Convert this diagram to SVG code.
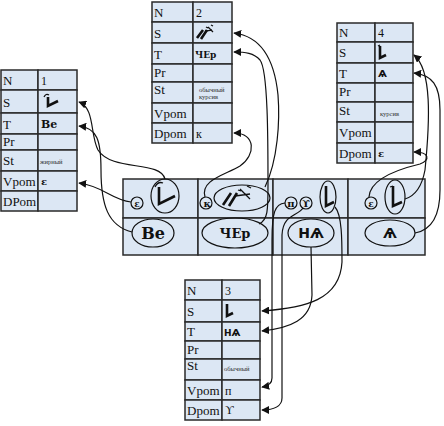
<svg xmlns="http://www.w3.org/2000/svg" width="444" height="426" viewBox="0 0 444 426">
<style>
.cell{fill:#dce7f4;stroke:#2a2a2a;stroke-width:1.5}
.lbl{font-family:"Liberation Serif",serif;font-size:13px;fill:#111}
.val{font-family:"Liberation Serif",serif;font-size:12px;fill:#111}
.sm{font-family:"Liberation Serif",serif;font-size:6.5px;fill:#333}
.sl{font-family:"DejaVu Serif","Liberation Serif",serif;font-weight:bold;fill:#111}
.yus{font-family:"DejaVu Sans","Noto Sans",sans-serif;font-weight:bold;fill:#111}
.ring{fill:none;stroke:#111;stroke-width:1.2}
.neu{fill:none;stroke:#111;stroke-width:2.6;stroke-linecap:butt}
.neut{fill:none;stroke:#111;stroke-width:1.3}
.con{fill:none;stroke:#111;stroke-width:1.2;marker-end:url(#ah)}
</style>
<defs>
<marker id="ah" viewBox="0 0 10 10" refX="9" refY="5" markerWidth="8" markerHeight="8" markerUnits="userSpaceOnUse" orient="auto">
<path d="M0,0 L10,5 L0,10 z" fill="#111"/>
</marker>
</defs>

<g id="table1">
<rect class="cell" x="1" y="70" width="37" height="20"/><rect class="cell" x="38" y="70" width="39" height="20"/>
<rect class="cell" x="1" y="90" width="37" height="23"/><rect class="cell" x="38" y="90" width="39" height="23"/>
<rect class="cell" x="1" y="113" width="37" height="21"/><rect class="cell" x="38" y="113" width="39" height="21"/>
<rect class="cell" x="1" y="134" width="37" height="16"/><rect class="cell" x="38" y="134" width="39" height="16"/>
<rect class="cell" x="1" y="150" width="37" height="21"/><rect class="cell" x="38" y="150" width="39" height="21"/>
<rect class="cell" x="1" y="171" width="37" height="20"/><rect class="cell" x="38" y="171" width="39" height="20"/>
<rect class="cell" x="1" y="191" width="37" height="20"/><rect class="cell" x="38" y="191" width="39" height="20"/>
<text class="lbl" x="3" y="85">N</text><text class="val" x="41" y="85">1</text>
<text class="lbl" x="3" y="107">S</text>
<path class="neu" d="M48,97 L48,106 L58,101"/><path class="neut" d="M44,97 q2,-4 5,-2"/>
<text class="lbl" x="3" y="129">T</text><text class="sl" x="41" y="128" font-size="11">Ве</text>
<text class="lbl" x="3" y="146">Pr</text>
<text class="lbl" x="3" y="165">St</text><text class="sm" x="40" y="164">жирный</text>
<text class="lbl" x="3" y="186">Vpom</text><text class="sl" x="41" y="185" font-size="10">ɛ</text>
<text class="lbl" x="3" y="206">DPom</text>
</g>

<g id="table2">
<rect class="cell" x="152" y="2" width="41" height="20"/><rect class="cell" x="193" y="2" width="39" height="20"/>
<rect class="cell" x="152" y="22" width="41" height="21"/><rect class="cell" x="193" y="22" width="39" height="21"/>
<rect class="cell" x="152" y="43" width="41" height="21"/><rect class="cell" x="193" y="43" width="39" height="21"/>
<rect class="cell" x="152" y="64" width="41" height="18"/><rect class="cell" x="193" y="64" width="39" height="18"/>
<rect class="cell" x="152" y="82" width="41" height="21"/><rect class="cell" x="193" y="82" width="39" height="21"/>
<rect class="cell" x="152" y="103" width="41" height="20"/><rect class="cell" x="193" y="103" width="39" height="20"/>
<rect class="cell" x="152" y="123" width="41" height="20"/><rect class="cell" x="193" y="123" width="39" height="20"/>
<text class="lbl" x="154" y="17">N</text><text class="val" x="196" y="17">2</text>
<text class="lbl" x="154" y="38">S</text>
<path class="neu" d="M197,38 L203,30 M201,39 L207,30"/><path class="neut" d="M205,31 L212,30 M208,27 L213,32 M211,25 l2,1 M206,27 l2,1"/>
<text class="lbl" x="154" y="59">T</text><text class="sl" x="195" y="58" font-size="9">ЧЕр</text>
<text class="lbl" x="154" y="77">Pr</text>
<text class="lbl" x="154" y="94">St</text><text class="sm" x="199" y="92">обычный</text><text class="sm" x="199" y="99">курсив</text>
<text class="lbl" x="154" y="118">Vpom</text>
<text class="lbl" x="154" y="138">Dpom</text><text class="val" x="196" y="138" font-size="13">к</text>
</g>

<g id="table3">
<rect class="cell" x="185" y="280" width="37" height="20"/><rect class="cell" x="222" y="280" width="38" height="20"/>
<rect class="cell" x="185" y="300" width="37" height="22"/><rect class="cell" x="222" y="300" width="38" height="22"/>
<rect class="cell" x="185" y="322" width="37" height="19"/><rect class="cell" x="222" y="322" width="38" height="19"/>
<rect class="cell" x="185" y="341" width="37" height="18"/><rect class="cell" x="222" y="341" width="38" height="18"/>
<rect class="cell" x="185" y="359" width="37" height="21"/><rect class="cell" x="222" y="359" width="38" height="21"/>
<rect class="cell" x="185" y="380" width="37" height="20"/><rect class="cell" x="222" y="380" width="38" height="20"/>
<rect class="cell" x="185" y="400" width="37" height="20"/><rect class="cell" x="222" y="400" width="38" height="20"/>
<text class="lbl" x="187" y="295">N</text><text class="val" x="225" y="295">3</text>
<text class="lbl" x="187" y="316">S</text>
<path class="neu" d="M227,304 L227,316 L233,313"/>
<text class="lbl" x="187" y="336">T</text><text class="yus" x="224" y="336" font-size="9">НѦ</text>
<text class="lbl" x="187" y="354">Pr</text>
<text class="lbl" x="187" y="370">St</text><text class="sm" x="224" y="371">обычный</text>
<text class="lbl" x="187" y="395">Vpom</text><text class="val" x="225" y="395" font-size="13">п</text>
<text class="lbl" x="187" y="415">Dpom</text><text class="val" x="225" y="414" font-size="13">ϒ</text>
</g>

<g id="table4">
<rect class="cell" x="337" y="23" width="38" height="19"/><rect class="cell" x="375" y="23" width="38" height="19"/>
<rect class="cell" x="337" y="42" width="38" height="21"/><rect class="cell" x="375" y="42" width="38" height="21"/>
<rect class="cell" x="337" y="63" width="38" height="20"/><rect class="cell" x="375" y="63" width="38" height="20"/>
<rect class="cell" x="337" y="83" width="38" height="19"/><rect class="cell" x="375" y="83" width="38" height="19"/>
<rect class="cell" x="337" y="102" width="38" height="20"/><rect class="cell" x="375" y="102" width="38" height="20"/>
<rect class="cell" x="337" y="122" width="38" height="21"/><rect class="cell" x="375" y="122" width="38" height="21"/>
<rect class="cell" x="337" y="143" width="38" height="20"/><rect class="cell" x="375" y="143" width="38" height="20"/>
<text class="lbl" x="339" y="37">N</text><text class="val" x="378" y="37">4</text>
<text class="lbl" x="339" y="57">S</text>
<path class="neu" d="M380,46 L380,58 L386,55"/><path class="neut" d="M378,46 l2,-1"/>
<text class="lbl" x="339" y="78">T</text><text class="yus" x="378" y="77" font-size="9">Ѧ</text>
<text class="lbl" x="339" y="96">Pr</text>
<text class="lbl" x="339" y="115">St</text><text class="sm" x="380" y="116">курсив</text>
<text class="lbl" x="339" y="137">Vpom</text>
<text class="lbl" x="339" y="158">Dpom</text><text class="sl" x="378" y="157" font-size="10">ɛ</text>
</g>

<g id="band">
<rect class="cell" x="123" y="179" width="75" height="39"/><rect class="cell" x="198" y="179" width="75" height="39"/>
<rect class="cell" x="273" y="179" width="75" height="39"/><rect class="cell" x="348" y="179" width="77" height="39"/>
<rect class="cell" x="123" y="218" width="75" height="37"/><rect class="cell" x="198" y="218" width="75" height="37"/>
<rect class="cell" x="273" y="218" width="75" height="37"/><rect class="cell" x="348" y="218" width="77" height="37"/>
</g>

<g id="syl1">
<circle class="ring" cx="137" cy="203" r="6"/><text class="sl" x="137" y="206.5" font-size="9" text-anchor="middle">ɛ</text>
<ellipse class="ring" cx="165" cy="196" rx="14" ry="17"/>
<path class="neu" d="M159,187 L159,204 L175,196"/><path class="neut" d="M155,187 q3,-6 8,-4"/>
<ellipse class="ring" cx="153" cy="233" rx="21" ry="14"/><text class="sl" x="153" y="239" font-size="16" text-anchor="middle">Ве</text>
</g>
<g id="syl2">
<circle class="ring" cx="206" cy="203" r="6"/><text class="sl" x="207" y="207" font-size="10" text-anchor="middle">к</text>
<ellipse class="ring" cx="242" cy="198" rx="28" ry="13"/>
<path class="neu" d="M223,205 L231,193 M229,206 L237,193"/><path class="neut" d="M235,196 L250,194 M240,189 L250,199 M247,186 l4,2 M238,190 l3,1"/>
<ellipse class="ring" cx="235" cy="233" rx="33" ry="15"/><text class="sl" x="235" y="238" font-size="13" text-anchor="middle">ЧЕр</text>
</g>
<g id="syl3">
<circle class="ring" cx="291" cy="203" r="6"/><text class="sl" x="291" y="207" font-size="10" text-anchor="middle">п</text>
<circle class="ring" cx="306" cy="203" r="6"/><text class="sl" x="306" y="207" font-size="10" text-anchor="middle">ϒ</text>
<ellipse class="ring" cx="328" cy="197" rx="8" ry="16"/>
<path class="neu" d="M326,186 L326,206 L334,202"/>
<ellipse class="ring" cx="311" cy="233" rx="23" ry="14"/><text class="yus" x="311" y="238" font-size="14" text-anchor="middle">НѦ</text>
</g>
<g id="syl4">
<circle class="ring" cx="371" cy="203" r="6"/><text class="sl" x="371" y="206.5" font-size="9" text-anchor="middle">ɛ</text>
<ellipse class="ring" cx="395" cy="197" rx="10" ry="17"/>
<path class="neu" d="M393,186 L393,206 L402,202"/><path class="neut" d="M390,187 l3,-1"/>
<ellipse class="ring" cx="390" cy="233" rx="25" ry="13"/><text class="yus" x="390" y="238" font-size="14" text-anchor="middle">Ѧ</text>
</g>

<g id="connectors">
<path class="con" d="M165,179 C160,160 112,172 98,150 C90,135 95,108 79,102"/>
<path class="con" d="M132,232 C108,226 101,205 101,170 C101,140 97,128 79,126"/>
<path class="con" d="M131,202 C112,200 103,186 79,183"/>
<path class="con" d="M265,187 C278,160 280,120 278,95 C274,55 258,36 234,33"/>
<path class="con" d="M259,224 C268,220 268,210 268,185 C268,140 268,70 260,60 C254,53 245,52 234,52"/>
<path class="con" d="M205,197 C200,180 225,175 240,166 C256,155 256,133 234,133"/>
<path class="con" d="M335,207 C342,215 342,240 342,262 C340,300 305,308 262,311"/>
<path class="con" d="M311,247 L312,295 C311,320 290,328 262,331"/>
<path class="con" d="M285,203 C275,204 272,212 272,240 L272,378 C272,384 268,386 262,387"/>
<path class="con" d="M303,208 C298,216 283,214 282,235 L282,398 C282,406 274,410 262,410"/>
<path class="con" d="M405,199 C415,196 422,186 425,170 C430,120 432,70 414,55"/>
<path class="con" d="M415,233 C432,230 440,215 440,190 L440,110 C440,85 432,75 414,73"/>
<path class="con" d="M369,197 C370,180 395,170 420,164 C430,160 430,152 414,152"/>
</g>
</svg>
